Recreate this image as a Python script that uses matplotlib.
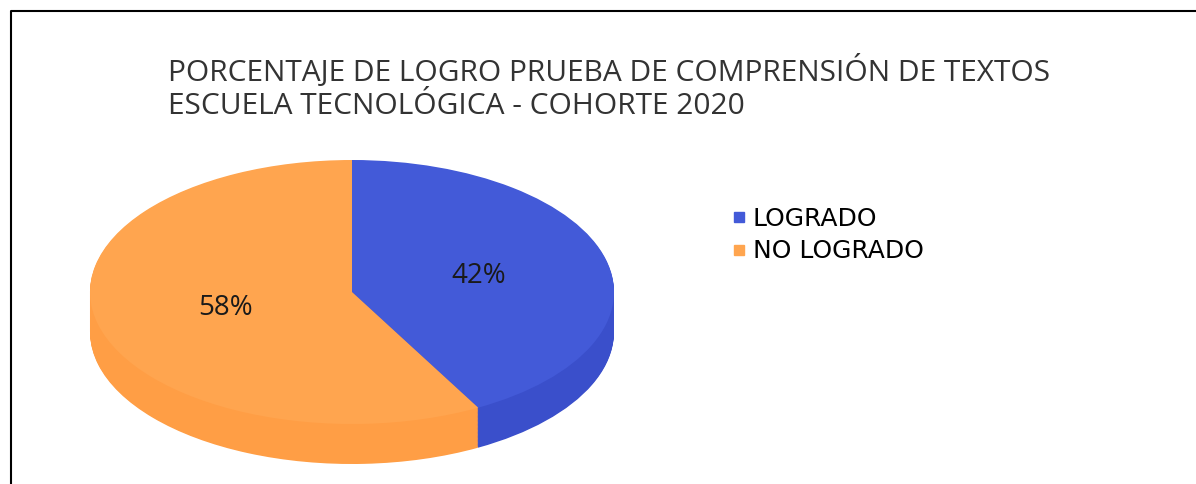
import matplotlib.pyplot as plt
from matplotlib.lines import Line2D

labels = ['LOGRADO', 'NO LOGRADO']
values = [42, 58]
top_colors = ['#435AD8', '#FFA54F']
side_colors = ['#3A4FCB', '#FF9E45']
title = 'PORCENTAJE DE LOGRO PRUEBA DE COMPRENSIÓN DE TEXTOS\nESCUELA TECNOLÓGICA - COHORTE 2020'

W, H = 1196, 484
fig = plt.figure(figsize=(W / 100, H / 100), dpi=100)

# background axes in pixel coords (border, title)
bg = fig.add_axes([0, 0, 1, 1])
bg.set_xlim(0, W)
bg.set_ylim(H, 0)
bg.axis('off')
bg.plot([11, 11, W], [H, 10.5, 10.5], color='black', lw=1.5)
bg.text(168, 55, title, fontsize=21.5, color='#333333', va='top', ha='left',
        linespacing=1.17, family='Open Sans')

# pie: top ellipse 90..614 x 160..424 px, depth 40 px
cx, cy, rx, ry, depth = 352, 292, 262, 132, 40
d = depth / ry
ax = fig.add_axes([(cx - rx) / W, (H - cy - ry - depth) / H, 2 * rx / W, (2 * ry + depth) / H])
ax.set_xlim(-1, 1)
ax.set_ylim(-1 - d, 1)
ax.axis('off')

n = 50
for i in range(n, 0, -1):
    ax.pie(values, colors=side_colors, startangle=90, counterclock=False,
           center=(0, -d * i / n), radius=1, wedgeprops=dict(linewidth=0))
wedges, _, autotexts = ax.pie(values, colors=top_colors, startangle=90, counterclock=False,
                              autopct='%1.0f%%', pctdistance=0.5,
                              wedgeprops=dict(linewidth=0),
                              textprops=dict(fontsize=20, color='#1a1a1a', family='Open Sans'))
ax.set_aspect('auto')
ax.set_xlim(-1, 1)
ax.set_ylim(-1 - d, 1)

handles = [Line2D([], [], marker='s', linestyle='', markersize=7, color=c) for c in top_colors]
fig.legend(handles, labels, loc='upper left', bbox_to_anchor=(719 / W, 1 - 194 / H),
           frameon=False, handlelength=0.6, handletextpad=0.25, labelspacing=0.35, borderpad=0,
           prop=dict(family='DejaVu Sans', size=18))

fig.savefig('out.png', dpi=100)
